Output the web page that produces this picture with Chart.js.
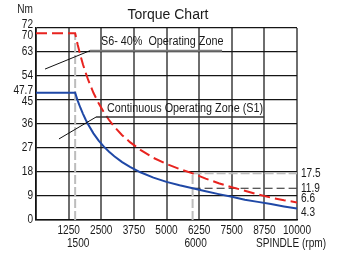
<!DOCTYPE html>
<html>
<head>
<meta charset="utf-8">
<script src="https://cdn.jsdelivr.net/npm/chart.js@4"></script>
<style>
  html, body { margin: 0; padding: 0; background: #fff; }
  #wrap { width: 338px; height: 255px; }
</style>
</head>
<body>
<div id="wrap"><canvas id="myChart" width="338" height="255"></canvas></div>
<script>
// spindle speed (rpm) and torque (Nm)
const rpm = [0, 1500, 1600, 1700, 1800, 1900, 2000, 2200, 2400, 2600, 2800, 3000, 3300, 3600, 4000, 4500, 5000, 5500, 6000, 6500, 7000, 7500, 8000, 8500, 9000, 9500, 10000];
const torqueS6 = [70, 70, 65.6, 61.8, 58.3, 55.3, 52.5, 47.7, 43.8, 40.4, 37.5, 35, 31.8, 29.2, 26.3, 23.3, 21, 19.1, 17.5, 15.5, 13.8, 12.3, 11, 9.6, 8.4, 7.4, 6.6];
const torqueS1 = [47.7, 47.7, 44.7, 42.1, 39.8, 37.7, 35.8, 32.5, 29.8, 27.5, 25.6, 23.9, 21.7, 19.9, 17.9, 15.9, 14.3, 13, 11.9, 10.8, 9.7, 8.7, 7.6, 6.8, 6, 5.1, 4.3];

// axis labels
const yTicks = [0, 9, 18, 27, 36, 45, 47.7, 54, 63, 70, 72];
const rightTicks = [17.5, 11.9, 6.6, 4.3];
const xTicks = [1250, 2500, 3750, 5000, 6250, 7500, 8750, 10000];
const xTicks2 = [1500, 6000];

const cornerRpm = 1500;
const baseRpm = 6000;

const FONT = "12px 'Liberation Sans', Arial, sans-serif";
const NARROW = 0.84;

const notes = [
    { text: "S6- 40%  Operating Zone", at: [2490, 66.8], line: [2070, 7130, 63.5], tip: [345, 56.6], ulColor: "#7a7a7a", ulWidth: 2 },
    { text: "Continuous Operating Zone (S1)", at: [2720, 41.6], line: [2300, 8740, 38.6], tip: [880, 30.4], ulColor: "#333", ulWidth: 1.5 }
];

function pts(xs, ys) {
    return xs.map((x, i) => ({ x: x, y: ys[i] }));
}

// spread labels that sit too close to each other
function spread(items, gap) {
    items.sort((a, b) => a.py - b.py);
    for (let i = 1; i < items.length; i++) {
        const d = items[i].py - items[i - 1].py;
        if (d < gap) {
            const k = (gap - d) / 2;
            items[i - 1].py -= k;
            items[i].py += k;
        }
    }
    return items;
}

// condensed text, the picture uses a narrow face
function text(ctx, s, x, y, align, sx) {
    ctx.save();
    ctx.translate(x, y);
    ctx.scale(sx || NARROW, 1);
    ctx.textAlign = align;
    ctx.fillText(s, 0, 0);
    ctx.restore();
}

const labelsPlugin = {
    id: "labels",
    afterDraw(chart) {
        const ctx = chart.ctx;
        const xs = chart.scales.x, ys = chart.scales.y;
        const area = chart.chartArea;
        ctx.save();
        ctx.fillStyle = "#1a1a1a";
        ctx.textBaseline = "middle";

        // title
        ctx.font = "14px 'Liberation Sans', Arial, sans-serif";
        text(ctx, "Torque Chart", 168, 15, "center", 1);

        ctx.font = FONT;

        // left labels
        text(ctx, "Nm", area.left - 3, 10, "right");
        spread(yTicks.map(v => ({ v: v, py: ys.getPixelForValue(v) })), 11).forEach(t => {
            text(ctx, String(t.v), area.left - 3, t.py, "right");
        });

        // right labels
        spread(rightTicks.map(v => ({ v: v, py: ys.getPixelForValue(v) })), 14).forEach(t => {
            text(ctx, String(t.v), area.right + 4, t.py, "left");
        });

        // bottom labels
        xTicks.forEach(v => text(ctx, String(v), xs.getPixelForValue(v), area.bottom + 11, "center"));
        xTicks2.forEach(v => text(ctx, String(v), xs.getPixelForValue(v) + 3, area.bottom + 24, "center"));
        text(ctx, "SPINDLE (rpm)", 326, area.bottom + 24, "right");

        // zone notes
        notes.forEach(n => {
            const x0 = xs.getPixelForValue(n.line[0]);
            const x1 = xs.getPixelForValue(n.line[1]);
            const yl = ys.getPixelForValue(n.line[2]);
            ctx.strokeStyle = n.ulColor;
            ctx.lineWidth = n.ulWidth;
            ctx.beginPath();
            ctx.moveTo(x0, yl);
            ctx.lineTo(x1, yl);
            ctx.stroke();
            ctx.strokeStyle = "#111";
            ctx.lineWidth = 1;
            ctx.beginPath();
            ctx.moveTo(x0, yl);
            ctx.lineTo(xs.getPixelForValue(n.tip[0]), ys.getPixelForValue(n.tip[1]));
            ctx.stroke();
            text(ctx, n.text, xs.getPixelForValue(n.at[0]), ys.getPixelForValue(n.at[1]), "left", 0.9);
        });
        ctx.restore();
    }
};

const ctx = document.getElementById("myChart").getContext("2d");

const gridRef = {
    borderColor: "#bdbdbd",
    borderWidth: 2,
    borderDash: [9, 3],
    pointRadius: 0,
    fill: false,
    tension: 0
};

new Chart(ctx, {
    type: "line",
    data: {
        datasets: [
            {
                label: "S6-40%",
                data: pts(rpm, torqueS6),
                borderColor: "#e8231f",
                borderWidth: 2,
                borderDash: [11, 5],
                pointRadius: 0,
                fill: false,
                tension: 0
            },
            {
                label: "S1",
                data: pts(rpm, torqueS1),
                borderColor: "#1f48a6",
                borderWidth: 2,
                pointRadius: 0,
                fill: false,
                tension: 0
            },
            Object.assign({ data: [{ x: cornerRpm, y: 0 }, { x: cornerRpm, y: torqueS6[1] }] }, gridRef),
            Object.assign({ data: [{ x: baseRpm, y: 0 }, { x: baseRpm, y: torqueS6[18] }] }, gridRef),
            Object.assign({ data: [{ x: baseRpm, y: torqueS6[18] }, { x: 10000, y: torqueS6[18] }] }, gridRef),
            {
                data: [{ x: baseRpm, y: torqueS1[18] }, { x: 10000, y: torqueS1[18] }],
                borderColor: "#222",
                borderWidth: 1.2,
                borderDash: [8, 4],
                pointRadius: 0,
                fill: false
            }
        ]
    },
    options: {
        responsive: false,
        animation: false,
        layout: {
            padding: { left: 36, right: 41, top: 28, bottom: 35 }
        },
        plugins: {
            legend: { display: false },
            tooltip: { enabled: false }
        },
        scales: {
            x: {
                type: "linear",
                min: 0,
                max: 10000,
                ticks: { display: false, stepSize: 1250 },
                grid: { color: "#6e6e6e", lineWidth: 2, drawTicks: false },
                border: { display: true, color: "#111", width: 1.5 }
            },
            y: {
                min: 0,
                max: 72,
                ticks: { display: false, stepSize: 9 },
                grid: { color: "#151515", lineWidth: 1.3, drawTicks: false },
                border: { display: true, color: "#111", width: 1.5 }
            }
        }
    },
    plugins: [labelsPlugin]
});
</script>
</body>
</html>
